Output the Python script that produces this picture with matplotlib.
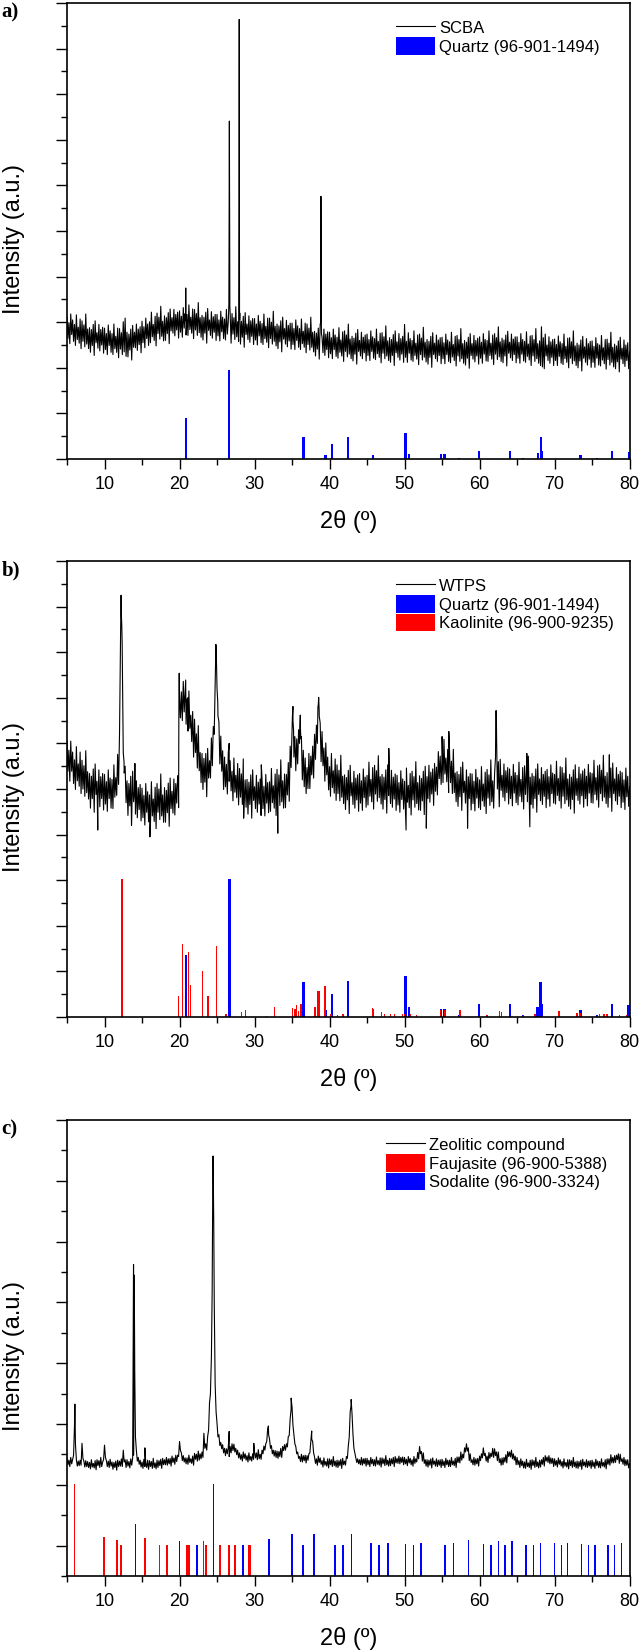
"""Recreate the three-panel XRD figure: SCBA, WTPS and the zeolitic compound.

Each measured pattern is stored as readings every 0.125 deg 2-theta (one row
per degree below), plus a short list of extra points for the narrow peaks.
Reference phases are drawn as sticks.
"""

import matplotlib
import numpy as np

matplotlib.use("Agg")

import matplotlib.pyplot as plt
from matplotlib.ticker import MultipleLocator, NullFormatter

TT_START = 5.0
TT_STEP = 0.125

# ---------------------------------------------------------------- a) SCBA
scba_intensity = [
    31.1, 26.4, 29.9, 25.3, 31.8, 27.3, 30.5, 25.8,
    29.5, 24.9, 31.6, 26.2, 28.9, 25.4, 30.7, 24.2,
    30.3, 25.8, 29.4, 24.6, 31.8, 25.2, 28.5, 24.2,
    28.8, 23.4, 28.4, 24.9, 29.5, 22.7, 30.3, 25.5,
    27.7, 24.3, 29.5, 23.7, 28.4, 25.0, 28.9, 23.2,
    28.7, 24.0, 27.5, 22.9, 29.4, 24.9, 28.1, 23.4,
    27.5, 22.9, 29.6, 24.2, 26.9, 23.4, 28.7, 22.2,
    28.6, 24.1, 27.7, 22.9, 30.1, 23.5, 30.9, 22.5,
    27.8, 22.4, 27.4, 23.9, 28.5, 21.7, 29.3, 24.5,
    27.8, 24.4, 29.6, 23.8, 28.5, 25.1, 29.0, 23.3,
    30.2, 25.5, 29.0, 24.4, 30.9, 26.4, 29.6, 24.9,
    30.1, 25.5, 32.2, 26.8, 29.5, 26.0, 31.3, 24.8,
    32.0, 27.5, 31.1, 26.3, 33.5, 26.9, 30.2, 25.9,
    31.4, 26.0, 31.0, 27.5, 32.1, 25.3, 32.9, 28.1,
    31.0, 27.6, 32.8, 27.0, 31.7, 28.3, 32.2, 26.5,
    32.5, 27.8, 31.3, 26.7, 33.2, 28.7, 31.9, 27.2,
    31.7, 27.1, 33.8, 28.4, 31.1, 27.6, 32.9, 26.4,
    32.8, 28.3, 31.9, 27.1, 34.3, 27.7, 31.0, 26.7,
    31.5, 26.1, 31.1, 27.6, 32.2, 25.4, 33.0, 28.2,
    30.5, 27.1, 32.3, 26.5, 31.2, 27.8, 31.7, 26.0,
    31.7, 27.0, 30.5, 25.9, 32.4, 27.9, 31.1, 26.4,
    30.7, 26.1, 32.8, 27.4, 30.1, 65.0, 31.9, 25.4,
    31.9, 27.4, 31.0, 26.2, 33.4, 26.8, 30.1, 25.8,
    30.6, 25.2, 30.2, 26.7, 31.3, 24.5, 32.1, 27.3,
    29.6, 26.2, 31.4, 25.6, 30.3, 26.9, 30.8, 25.1,
    30.8, 26.1, 29.6, 25.0, 31.5, 27.0, 30.2, 25.5,
    29.7, 25.1, 31.8, 26.4, 29.1, 25.6, 30.9, 24.4,
    30.9, 26.4, 30.0, 25.2, 32.4, 25.8, 29.1, 24.8,
    29.6, 24.2, 29.2, 25.7, 30.3, 23.5, 31.1, 26.3,
    28.6, 25.2, 30.4, 24.6, 29.3, 25.9, 29.8, 24.1,
    29.8, 25.1, 28.6, 24.0, 30.5, 26.0, 29.2, 24.5,
    28.6, 24.0, 30.7, 25.3, 28.0, 24.5, 29.8, 23.3,
    29.6, 25.1, 28.7, 23.9, 31.1, 24.5, 27.8, 23.5,
    28.0, 22.6, 27.6, 24.1, 28.7, 21.9, 29.5, 45.0,
    26.7, 23.3, 28.5, 22.7, 27.4, 24.0, 27.9, 22.2,
    27.8, 23.1, 26.6, 22.0, 28.5, 24.0, 27.2, 22.5,
    26.7, 22.1, 28.8, 23.4, 26.1, 22.6, 27.9, 21.4,
    28.1, 23.6, 27.2, 22.4, 29.6, 23.0, 26.3, 22.0,
    26.9, 21.5, 26.5, 23.0, 27.6, 20.8, 28.4, 23.6,
    26.0, 22.6, 27.8, 22.0, 26.7, 23.3, 27.2, 21.5,
    27.4, 22.7, 26.2, 21.6, 28.1, 23.6, 26.8, 22.1,
    26.4, 21.8, 28.5, 23.1, 25.8, 22.3, 27.6, 21.1,
    27.7, 23.2, 26.8, 22.0, 29.2, 22.6, 25.9, 21.6,
    26.6, 21.2, 26.2, 22.7, 27.3, 20.5, 28.1, 23.3,
    25.7, 22.3, 27.5, 21.7, 26.4, 23.0, 26.9, 21.2,
    29.5, 22.3, 25.8, 21.2, 27.7, 23.2, 26.4, 21.7,
    26.0, 21.4, 28.1, 22.7, 25.4, 21.9, 27.2, 20.7,
    27.4, 22.9, 26.5, 21.7, 28.9, 22.3, 25.6, 21.3,
    26.2, 20.8, 25.8, 22.3, 26.9, 20.1, 27.7, 22.9,
    25.4, 22.0, 27.2, 21.4, 26.1, 22.7, 26.6, 20.9,
    26.7, 22.0, 25.5, 20.9, 27.4, 22.9, 26.1, 21.4,
    25.7, 21.1, 27.8, 22.4, 25.1, 21.6, 26.9, 20.4,
    27.1, 22.6, 26.2, 21.4, 28.6, 22.0, 25.3, 21.0,
    26.0, 20.6, 25.6, 22.1, 26.7, 19.9, 27.5, 22.7,
    25.3, 21.9, 27.1, 21.3, 26.0, 22.6, 26.5, 20.8,
    26.8, 22.1, 25.6, 21.0, 27.5, 23.0, 26.2, 21.5,
    26.0, 21.4, 28.1, 22.7, 25.4, 21.9, 27.2, 20.7,
    27.5, 23.0, 26.6, 21.8, 29.0, 22.4, 25.7, 21.4,
    26.5, 21.1, 26.1, 22.6, 27.2, 20.4, 28.0, 23.2,
    25.6, 22.2, 27.4, 21.6, 26.3, 22.9, 26.8, 21.1,
    26.8, 22.1, 25.6, 21.0, 27.5, 23.0, 26.2, 21.5,
    25.8, 21.2, 27.9, 22.5, 25.2, 21.7, 27.0, 20.5,
    27.1, 22.6, 26.2, 21.4, 28.6, 22.0, 25.3, 21.0,
    25.9, 20.5, 29.0, 20.2, 26.6, 19.8, 27.4, 22.6,
    25.0, 21.6, 26.8, 21.0, 25.7, 22.3, 26.2, 20.5,
    26.3, 21.6, 25.1, 20.5, 27.0, 22.5, 25.7, 21.0,
    25.3, 20.7, 27.4, 22.0, 24.7, 21.2, 26.5, 20.0,
    26.6, 22.1, 25.7, 20.9, 28.1, 21.5, 24.8, 20.5,
    25.4, 20.0, 25.0, 21.5, 26.1, 19.3, 26.9, 22.1,
    24.6, 21.2, 26.4, 20.6, 25.3, 21.9, 25.8, 20.1,
    25.9, 21.2, 24.7, 20.1, 26.6, 22.1, 25.3, 20.6,
    25.0, 20.4, 27.1, 21.7, 24.4, 20.9, 26.2, 19.7,
    26.3, 21.8, 25.4, 20.6, 27.8, 21.2, 24.5, 20.2,
    25.2, 19.8, 24.8, 21.3, 25.9, 19.1, 26.7, 21.9,
    24.3, 20.9, 26.1, 20.3, 25.0, 21.6, 25.5, 19.8,
    23.5,
]
scba_peak_tt = [20.80, 20.83, 20.86, 26.58, 26.62, 26.645, 26.67, 26.71,
                27.90, 27.93, 27.96, 27.99, 28.03, 38.82, 38.85, 38.88, 38.92]
scba_peak_int = [30.5, 37.5, 31.0, 34.0, 56.0, 74.1, 55.0, 33.5,
                 36.0, 55.0, 96.4, 43.0, 32.0, 30.0, 57.6, 34.0, 27.5]
scba_quartz_tt = [20.86, 26.64, 36.54, 39.46, 40.29, 42.45, 45.79, 50.14, 50.62, 54.87, 55.33,
                  57.23, 59.96, 64.03, 65.79, 67.74, 68.14, 68.31, 73.47, 75.66, 77.67, 79.88]
scba_quartz_int = [9.0, 19.6, 4.9, 0.9, 3.2, 4.9, 0.9, 5.8, 1.2, 1.2, 1.2,
                   0.3, 1.8, 1.7, 0.2, 1.4, 4.9, 1.8, 0.9, 0.2, 1.8, 1.6]

# ---------------------------------------------------------------- b) WTPS
wtps_intensity = [
    60.6, 53.9, 58.5, 51.7, 60.5, 53.9, 58.1, 51.2,
    56.4, 49.9, 59.3, 51.8, 55.5, 50.6, 58.1, 49.0,
    56.3, 50.0, 55.1, 48.4, 58.4, 49.2, 53.8, 47.8,
    53.4, 45.8, 52.8, 47.9, 54.4, 44.9, 55.5, 48.8,
    51.7, 46.9, 54.2, 46.1, 52.7, 47.9, 53.4, 45.4,
    53.2, 46.7, 51.6, 45.1, 54.2, 47.9, 52.4, 45.8,
    52.1, 45.7, 55.3, 48.2, 52.5, 48.6, 57.6, 51.0,
    62.0, 80.0, 88.0, 78.0, 58.0, 53.5, 55.0, 47.0,
    51.8, 44.2, 51.2, 46.3, 52.8, 43.3, 53.9, 47.2,
    49.3, 44.5, 51.8, 43.7, 50.3, 45.5, 51.0, 43.0,
    50.2, 43.7, 48.6, 42.1, 51.2, 44.9, 49.4, 42.8,
    48.7, 42.2, 51.6, 44.1, 47.8, 42.9, 50.4, 41.3,
    51.2, 44.9, 50.0, 43.3, 53.3, 44.1, 48.7, 42.7,
    50.3, 42.7, 49.7, 44.8, 51.3, 41.8, 52.4, 45.7,
    49.5, 44.7, 52.2, 44.3, 51.2, 46.9, 52.9, 45.9,
    70.6, 65.6, 71.3, 65.0, 73.6, 66.9, 71.1, 64.2,
    69.7, 62.7, 71.5, 63.3, 66.2, 60.4, 67.0, 57.0,
    65.3, 58.0, 62.1, 54.6, 63.9, 54.0, 58.0, 51.4,
    57.8, 49.9, 56.7, 51.5, 57.8, 48.3, 58.9, 52.4,
    56.2, 52.4, 61.2, 55.1, 63.7, 62.0, 73.0, 81.0,
    72.0, 66.0, 64.8, 55.5, 61.6, 53.9, 58.4, 49.9,
    57.0, 50.5, 55.4, 48.9, 58.0, 51.7, 56.2, 49.6,
    53.9, 47.4, 56.8, 49.3, 53.0, 48.1, 55.6, 46.5,
    54.5, 48.2, 53.3, 46.6, 56.6, 47.4, 52.0, 46.0,
    52.1, 44.5, 51.5, 46.6, 53.1, 43.6, 54.2, 47.5,
    50.5, 45.7, 53.0, 44.9, 51.5, 46.7, 52.2, 44.2,
    52.2, 45.7, 50.6, 44.1, 53.2, 46.9, 51.4, 44.8,
    51.6, 45.1, 54.5, 47.0, 50.7, 45.8, 53.3, 44.2,
    54.3, 48.0, 53.1, 46.4, 56.4, 47.2, 51.8, 45.8,
    53.3, 45.9, 53.2, 48.7, 55.8, 47.3, 59.4, 54.7,
    63.5, 65.0, 57.0, 61.5, 54.0, 61.0, 55.5, 63.0,
    60.0, 63.0, 61.5, 52.0, 58.5, 50.5, 56.8, 49.0,
    54.7, 50.1, 57.8, 50.1, 57.2, 53.1, 59.4, 52.4,
    62.0, 56.5, 64.0, 60.0, 68.5, 66.0, 64.5, 56.0,
    62.6, 55.1, 59.0, 51.7, 60.1, 53.1, 57.0, 49.8,
    54.9, 48.4, 57.8, 50.3, 54.0, 49.1, 56.6, 47.5,
    55.3, 49.0, 54.1, 47.4, 57.4, 48.2, 52.8, 46.8,
    53.1, 45.5, 52.5, 47.6, 54.1, 44.6, 55.2, 48.5,
    51.4, 46.6, 53.9, 45.8, 52.4, 47.6, 53.1, 45.1,
    53.4, 46.9, 51.8, 45.3, 54.4, 48.1, 52.6, 46.0,
    53.0, 46.5, 55.9, 48.4, 52.1, 47.2, 54.7, 45.6,
    55.2, 48.9, 54.0, 47.3, 57.3, 48.1, 52.7, 46.7,
    53.2, 45.6, 52.6, 47.7, 54.2, 44.7, 55.3, 48.6,
    51.6, 46.8, 54.1, 46.0, 52.6, 47.8, 53.3, 45.3,
    53.0, 46.5, 51.4, 44.9, 54.0, 47.7, 52.2, 45.6,
    51.7, 45.2, 54.6, 47.1, 50.8, 45.9, 53.4, 44.3,
    53.9, 47.6, 52.7, 46.0, 56.0, 46.8, 51.4, 45.4,
    52.9, 45.3, 52.3, 47.4, 53.9, 44.4, 55.0, 48.3,
    52.7, 47.9, 55.2, 47.1, 53.7, 48.9, 54.4, 46.4,
    55.6, 49.5, 54.8, 48.7, 58.2, 52.3, 57.2, 51.0,
    57.7, 51.4, 60.9, 53.3, 56.8, 51.6, 58.7, 49.2,
    58.1, 51.4, 56.1, 49.0, 58.7, 49.2, 53.5, 47.2,
    53.8, 46.2, 53.2, 48.3, 54.8, 45.3, 55.9, 49.2,
    51.7, 46.9, 54.2, 46.1, 52.7, 47.9, 53.4, 45.4,
    53.3, 46.8, 51.7, 45.2, 54.3, 48.0, 52.5, 45.9,
    52.0, 45.5, 54.9, 47.4, 51.1, 46.2, 53.7, 44.6,
    54.3, 48.0, 53.1, 46.4, 56.4, 47.2, 51.8, 45.8,
    53.3, 57.0, 64.0, 50.0, 56.0, 46.1, 56.5, 49.7,
    53.0, 48.2, 55.5, 47.4, 54.0, 49.2, 54.7, 46.7,
    54.4, 47.9, 52.8, 46.3, 55.4, 49.1, 53.6, 47.0,
    53.0, 46.5, 55.9, 48.4, 52.1, 47.2, 54.7, 45.6,
    55.1, 48.8, 53.9, 47.2, 57.2, 48.0, 52.6, 46.6,
    53.4, 45.8, 52.8, 47.9, 54.4, 44.9, 55.5, 48.8,
    52.2, 47.4, 54.7, 46.6, 53.2, 48.4, 53.9, 45.9,
    54.3, 47.8, 52.7, 46.2, 55.3, 49.0, 53.5, 46.9,
    53.2, 46.7, 56.1, 48.6, 52.3, 47.4, 54.9, 45.8,
    54.7, 48.4, 53.5, 46.8, 56.8, 47.6, 52.2, 46.2,
    53.2, 45.6, 52.6, 47.7, 54.2, 44.7, 55.3, 48.6,
    52.3, 47.5, 54.8, 46.7, 53.3, 48.5, 54.0, 46.0,
    54.4, 47.9, 52.8, 46.3, 55.4, 49.1, 53.6, 47.0,
    53.4, 46.9, 56.3, 48.8, 52.5, 47.6, 55.1, 46.0,
    55.3, 49.0, 54.1, 47.4, 57.4, 48.2, 52.8, 46.8,
    53.6, 46.0, 53.0, 48.1, 54.6, 45.1, 55.7, 49.0,
    52.2, 47.4, 54.7, 46.6, 53.2, 48.4, 53.9, 45.9,
    53.6, 47.1, 52.0, 45.5, 54.6, 48.3, 52.8, 46.2,
    50.5,
]
wtps_peak_tt = [9.1, 12.05, 12.15, 12.21, 12.30, 12.35, 12.42, 12.60, 13.6, 14.05, 16.05,
                19.85, 19.92, 19.96, 20.10, 20.82, 21.10, 24.80, 24.85, 24.90, 24.95, 25.10,
                26.62, 28.55, 30.9, 33.1, 35.05, 35.12, 35.20, 36.05, 36.10, 36.18,
                38.45, 38.55, 38.62, 47.9, 50.2, 52.9, 55.0, 55.9, 58.4,
                62.15, 62.20, 62.27, 66.3, 66.7, 77.3]
wtps_peak_int = [41.0, 70.0, 85.0, 92.5, 86.0, 82.3, 70.0, 56.0, 42.0, 55.6, 39.5,
                 52.0, 70.0, 75.4, 66.0, 73.9, 70.0, 78.0, 81.7, 80.0, 76.0, 69.0,
                 60.0, 43.6, 55.3, 40.3, 66.0, 68.1, 63.0, 64.0, 66.2, 61.0,
                 68.0, 70.1, 67.0, 58.9, 41.0, 41.4, 61.5, 62.6, 41.4,
                 63.0, 67.2, 61.0, 57.8, 41.7, 57.5]
wtps_quartz_tt = [20.86, 26.64, 36.54, 39.46, 40.29, 42.45, 45.79, 50.14, 50.62, 54.87, 55.33,
                  57.23, 59.96, 64.03, 65.79, 67.74, 68.14, 68.31, 73.47, 75.66, 77.67, 79.88]
wtps_quartz_int = [13.7, 30.3, 7.7, 1.5, 5.1, 7.8, 1.6, 9.1, 2.3, 1.8, 1.8,
                   0.4, 2.9, 2.8, 0.4, 2.2, 7.7, 2.9, 1.5, 0.4, 2.9, 2.7]
wtps_kaolinite_tt = [12.35, 19.86, 20.36, 21.24, 21.50, 23.10, 23.80, 24.90, 26.20, 28.30, 28.80,
                     31.60, 32.70, 35.10, 35.40, 35.60, 35.90, 36.20, 38.06, 38.45, 38.70, 39.40,
                     40.20, 41.10, 41.80, 45.70, 45.90, 46.90, 47.35, 48.10, 48.70, 49.70, 50.00,
                     50.80, 51.60, 54.80, 55.40, 57.40, 61.00, 62.70, 62.90, 65.90, 67.40, 70.60,
                     72.90, 73.10, 73.40, 76.00, 76.60, 77.00, 78.70, 79.60]
wtps_kaolinite_int = [30.3, 4.7, 15.9, 14.2, 7.1, 10.1, 4.7, 15.5, 0.6, 1.2, 1.6,
                      0.3, 2.2, 2.0, 1.8, 2.7, 1.3, 2.9, 2.3, 5.6, 5.6, 6.9,
                      0.6, 0.4, 0.6, 2.0, 1.8, 1.1, 0.7, 0.6, 0.6, 0.6, 0.7,
                      0.6, 0.4, 1.5, 1.6, 1.5, 0.4, 1.3, 1.1, 0.4, 0.7, 1.3,
                      0.9, 0.9, 0.9, 0.6, 0.6, 0.6, 0.4, 0.4]

# ---------------------------------------------------------------- c) zeolitic compound
zeolite_intensity = [
    25.8, 24.4, 25.4, 24.0, 26.0, 24.6, 25.6, 26.5,
    33.0, 29.0, 25.5, 24.1, 25.2, 24.2, 25.4, 24.3,
    29.1, 25.8, 25.2, 23.9, 25.3, 24.0, 25.1, 23.8,
    24.9, 23.5, 25.5, 23.9, 24.7, 23.7, 25.3, 23.3,
    25.5, 24.2, 25.3, 23.8, 26.0, 24.0, 25.0, 25.5,
    28.7, 26.0, 25.3, 24.0, 25.2, 23.8, 25.6, 24.1,
    25.0, 23.4, 24.9, 23.8, 25.2, 23.2, 25.4, 24.0,
    25.2, 24.1, 25.7, 24.0, 27.6, 25.0, 25.5, 23.8,
    25.5, 24.1, 25.1, 23.7, 25.7, 24.3, 25.8, 26.5,
    55.0, 30.5, 27.5, 25.2, 26.0, 24.5, 25.4, 23.9,
    25.0, 23.6, 25.6, 24.0, 24.8, 23.8, 25.4, 23.4,
    25.3, 24.0, 25.1, 23.6, 25.8, 23.8, 24.8, 23.5,
    25.4, 23.8, 25.3, 24.2, 25.6, 23.6, 25.8, 24.4,
    25.5, 24.4, 26.0, 24.3, 25.7, 24.6, 25.8, 24.1,
    26.3, 24.9, 25.9, 24.5, 26.5, 25.1, 26.5, 26.2,
    29.5, 27.5, 27.0, 25.3, 26.4, 25.0, 25.9, 24.6,
    25.9, 24.5, 26.5, 24.9, 25.7, 24.7, 26.3, 24.3,
    26.9, 25.6, 26.7, 25.2, 27.4, 25.4, 26.8, 25.7,
    27.2, 26.0, 31.3, 28.0, 29.0, 27.6, 30.6, 32.0,
    38.0, 40.0, 48.0, 70.0, 88.0, 62.0, 42.0, 36.0,
    33.5, 30.5, 31.0, 28.6, 29.3, 27.9, 28.8, 27.0,
    28.0, 26.4, 27.9, 26.8, 28.2, 26.2, 28.4, 27.0,
    29.0, 27.5, 28.9, 27.2, 28.0, 26.6, 27.6, 25.9,
    27.0, 25.6, 26.6, 25.2, 27.2, 25.8, 26.8, 25.4,
    26.4, 25.0, 27.0, 25.4, 26.2, 25.2, 26.8, 25.6,
    27.2, 25.9, 27.0, 25.5, 27.7, 25.7, 26.7, 25.6,
    27.6, 26.8, 28.5, 27.6, 29.0, 29.5, 32.2, 31.0,
    30.0, 28.0, 28.6, 26.8, 27.6, 26.3, 27.5, 26.0,
    27.4, 25.8, 27.3, 26.2, 28.0, 26.0, 28.4, 27.5,
    28.8, 27.6, 29.0, 28.3, 30.6, 30.8, 34.5, 36.5,
    37.0, 33.0, 31.0, 29.0, 28.4, 26.8, 27.2, 25.8,
    26.2, 25.1, 26.7, 25.0, 26.4, 25.3, 26.5, 24.8,
    26.4, 25.4, 26.8, 27.0, 29.5, 30.0, 29.5, 27.0,
    26.1, 24.7, 25.7, 24.3, 26.3, 24.9, 25.9, 24.5,
    25.3, 23.9, 25.9, 24.3, 25.1, 24.1, 25.7, 23.7,
    25.7, 24.4, 25.5, 24.0, 26.2, 24.2, 25.2, 23.9,
    25.4, 23.8, 25.3, 24.2, 25.6, 23.6, 25.8, 24.4,
    25.2, 24.3, 26.2, 25.8, 28.5, 30.5, 36.0, 37.5,
    35.5, 31.0, 28.0, 27.0, 26.0, 24.9, 25.7, 24.6,
    25.5, 24.4, 26.0, 24.3, 25.7, 24.6, 25.8, 24.1,
    25.8, 24.4, 25.4, 24.0, 26.0, 24.6, 25.6, 24.2,
    25.5, 24.1, 26.1, 24.5, 25.3, 24.3, 25.9, 23.9,
    25.9, 24.6, 25.7, 24.2, 26.4, 24.4, 25.4, 24.1,
    25.8, 24.2, 25.7, 24.6, 26.0, 24.0, 26.2, 24.8,
    25.8, 24.7, 26.3, 24.6, 26.0, 24.9, 26.1, 24.4,
    26.0, 24.6, 25.6, 24.2, 26.2, 24.8, 25.8, 24.4,
    25.5, 24.1, 26.2, 24.7, 25.7, 25.0, 27.1, 25.7,
    28.4, 26.8, 27.3, 25.2, 27.0, 24.7, 25.5, 24.1,
    25.5, 23.9, 25.4, 24.3, 25.7, 23.7, 25.9, 24.5,
    25.2, 24.1, 25.7, 24.0, 25.4, 24.3, 25.5, 23.8,
    25.6, 24.2, 25.2, 23.8, 25.8, 24.4, 25.4, 24.0,
    25.4, 24.0, 26.0, 24.4, 25.2, 24.2, 25.8, 23.8,
    26.1, 24.9, 26.1, 24.8, 27.2, 25.4, 26.7, 25.9,
    28.1, 27.2, 29.0, 27.4, 28.1, 25.3, 26.8, 24.9,
    25.5, 24.4, 26.0, 24.3, 25.7, 24.6, 25.8, 24.1,
    26.3, 25.3, 26.8, 25.9, 28.1, 26.4, 26.9, 25.2,
    26.3, 24.9, 27.1, 25.8, 26.9, 26.2, 28.0, 26.0,
    27.9, 26.4, 27.2, 25.3, 27.2, 24.9, 25.7, 24.3,
    25.9, 24.4, 26.0, 25.0, 26.6, 24.8, 27.3, 26.2,
    27.2, 26.1, 27.6, 25.7, 26.8, 25.4, 26.3, 24.4,
    26.0, 24.4, 25.3, 23.8, 25.7, 24.2, 25.2, 23.7,
    25.0, 23.6, 25.6, 24.0, 24.8, 23.8, 25.4, 23.4,
    25.5, 24.2, 25.3, 23.8, 26.0, 24.0, 25.0, 23.7,
    25.4, 23.9, 25.5, 24.5, 26.0, 24.1, 26.4, 25.2,
    26.1, 24.9, 26.4, 24.6, 25.9, 24.7, 25.8, 24.0,
    25.7, 24.3, 25.3, 23.9, 25.9, 24.5, 25.5, 24.1,
    25.1, 23.7, 25.7, 24.1, 24.9, 23.9, 25.5, 23.5,
    25.5, 24.2, 25.3, 23.8, 26.0, 24.0, 25.0, 23.7,
    25.2, 23.6, 25.1, 24.0, 25.4, 23.4, 25.6, 24.2,
    25.0, 23.9, 25.5, 23.8, 25.2, 24.1, 25.3, 23.6,
    25.4, 24.0, 25.0, 23.6, 25.6, 24.2, 25.2, 23.8,
    25.1, 23.7, 25.7, 24.1, 24.9, 23.9, 25.5, 23.5,
    25.7, 24.5, 25.7, 24.3, 26.6, 24.8, 26.0, 24.8,
    26.4, 24.9, 26.5, 25.5, 26.8, 24.7, 26.7, 25.1,
    25.7, 24.5, 26.0, 24.2, 25.5, 24.3, 25.5, 23.7,
    24.7,
]
zeolite_peak_tt = [6.05, 6.12, 13.78, 13.87, 13.95, 14.03, 14.12, 15.38,
                   24.15, 24.35, 24.42, 24.47, 24.56, 24.63, 26.62, 29.90,
                   31.85, 34.88, 37.62, 42.88]
zeolite_peak_int = [37.7, 30.0, 35.0, 68.3, 66.0, 45.0, 31.0, 28.1,
                    42.0, 62.0, 82.0, 92.1, 78.0, 60.0, 31.7, 29.1,
                    32.9, 39.0, 31.8, 38.7]
zeolite_faujasite_tt = [6.0, 9.9, 11.65, 12.2, 14.1, 15.4, 17.3, 18.3, 20.0, 21.0, 21.2,
                        21.35, 22.3, 23.2, 23.5, 24.5, 25.4, 26.6, 27.4, 28.4, 29.2, 29.4]
zeolite_faujasite_int = [20.1, 8.6, 8.0, 6.7, 6.6, 8.3, 6.7, 6.9, 7.0, 6.7, 6.7,
                         6.7, 6.7, 7.6, 6.7, 6.7, 6.7, 6.9, 6.7, 6.7, 6.7, 6.7]
zeolite_sodalite_tt = [14.1, 20.0, 22.3, 24.54, 28.45, 31.9, 35.0, 36.45, 37.96, 40.7, 41.8,
                       42.95, 45.5, 46.6, 47.8, 50.1, 51.2, 52.2, 55.4, 56.5, 58.5, 60.5,
                       61.5, 62.5, 63.4, 64.3, 66.2, 67.2, 68.1, 70.0, 70.9, 71.7, 73.6,
                       74.5, 75.4, 77.1, 78.0, 78.9]
zeolite_sodalite_int = [11.3, 7.7, 6.8, 20.1, 6.8, 8.1, 9.2, 6.8, 9.2, 6.9, 6.8,
                        9.2, 7.2, 6.8, 7.2, 7.0, 6.8, 7.2, 6.8, 7.2, 8.0, 7.0,
                        6.8, 7.7, 6.8, 7.7, 6.8, 6.8, 7.2, 7.2, 6.8, 7.2, 7.0,
                        6.8, 6.8, 6.8, 6.8, 7.2]

FIG_W_PX = 644
FIG_H_PX = 1652
DPI = 100
AX_LEFT_PX = 67
AX_RIGHT_PX = 629.6
AX_HEIGHT_PX = 456
BLUE = "#0000ff"
RED = "#ff0000"


def build_trace(intensity, peak_tt, peak_int):
    """Merge the evenly spaced readings with the extra peak points, sorted by 2-theta."""
    grid_tt = TT_START + TT_STEP * np.arange(len(intensity))
    tt = np.concatenate([grid_tt, np.asarray(peak_tt, dtype=float)])
    values = np.concatenate([np.asarray(intensity, dtype=float), np.asarray(peak_int, dtype=float)])
    order = np.argsort(tt, kind="stable")
    return tt[order], values[order]


def style_axes(ax, y_major: float, y_minor: float, y_offset: float = 0.0) -> None:
    """Origin-like axes: out ticks on bottom/left only, no intensity labels."""
    ax.set_xlim(5, 80)
    ax.set_ylim(0, 100)
    ax.xaxis.set_major_locator(MultipleLocator(10))
    ax.xaxis.set_minor_locator(MultipleLocator(5))
    ax.yaxis.set_major_locator(MultipleLocator(y_major, offset=y_offset))
    ax.yaxis.set_minor_locator(MultipleLocator(y_minor))
    ax.yaxis.set_major_formatter(NullFormatter())
    ax.tick_params(axis="both", which="both", direction="out", top=False, right=False, width=1.0)
    ax.tick_params(axis="x", which="major", length=7, pad=5, labelsize=13)
    ax.tick_params(axis="x", which="minor", length=4)
    ax.tick_params(axis="y", which="major", length=8)
    ax.tick_params(axis="y", which="minor", length=4.5)
    for spine in ax.spines.values():
        spine.set_linewidth(1.2)
    ax.set_xlabel("2θ (º)", fontsize=17)
    ax.xaxis.set_label_coords(0.5, -0.112)
    ax.set_ylabel("Intensity (a.u.)", fontsize=17)
    ax.yaxis.set_label_coords(-0.075, 0.482)


def draw_panel(fig, top_px, letter, trace, trace_label, sticks, legend_x, y_ticks):
    ax = fig.add_axes([
        AX_LEFT_PX / FIG_W_PX,
        1 - (top_px + AX_HEIGHT_PX) / FIG_H_PX,
        (AX_RIGHT_PX - AX_LEFT_PX) / FIG_W_PX,
        AX_HEIGHT_PX / FIG_H_PX,
    ])
    tt, values = trace
    ax.plot(tt, values, color="black", linewidth=0.8, label=trace_label, zorder=3)
    for stick_tt, stick_int, width, color, label in sticks:
        ax.bar(stick_tt, stick_int, width=width, color=color, linewidth=0, label=label, zorder=2)
    style_axes(ax, *y_ticks)
    ax.legend(
        loc="upper left",
        bbox_to_anchor=(legend_x, 0.965),
        frameon=False,
        fontsize=12,
        handlelength=2.33,
        handleheight=1.2,
        handletextpad=0.25,
        labelspacing=0.08,
        borderpad=0,
        borderaxespad=0,
    )
    fig.text(0.002, 1 - (top_px - 1) / FIG_H_PX, letter, fontfamily="Liberation Serif",
             fontweight="bold", fontsize=15, ha="left", va="top")
    return ax


def main() -> None:
    plt.rcParams["font.family"] = ["Liberation Sans", "DejaVu Sans"]
    fig = plt.figure(figsize=(FIG_W_PX / DPI, FIG_H_PX / DPI), dpi=DPI)

    draw_panel(
        fig, 3, "a)",
        build_trace(scba_intensity, scba_peak_tt, scba_peak_int), "SCBA",
        [(scba_quartz_tt, scba_quartz_int, 0.3, BLUE, "Quartz (96-901-1494)")],
        0.585, (10, 5),
    )
    draw_panel(
        fig, 561, "b)",
        build_trace(wtps_intensity, wtps_peak_tt, wtps_peak_int), "WTPS",
        [
            (wtps_quartz_tt, wtps_quartz_int, 0.32, BLUE, "Quartz (96-901-1494)"),
            (wtps_kaolinite_tt, wtps_kaolinite_int, 0.17, RED, "Kaolinite (96-900-9235)"),
        ],
        0.585, (10, 5),
    )
    step = 100 / 15
    draw_panel(
        fig, 1120, "c)",
        build_trace(zeolite_intensity, zeolite_peak_tt, zeolite_peak_int), "Zeolitic compound",
        [
            (zeolite_faujasite_tt, zeolite_faujasite_int, 0.2, RED, "Faujasite (96-900-5388)"),
            (zeolite_sodalite_tt, zeolite_sodalite_int, 0.2, BLUE, "Sodalite (96-900-3324)"),
        ],
        0.567, (2 * step, step, step),
    )

    fig.savefig("out.png", dpi=DPI)
    plt.close(fig)


if __name__ == "__main__":
    main()
